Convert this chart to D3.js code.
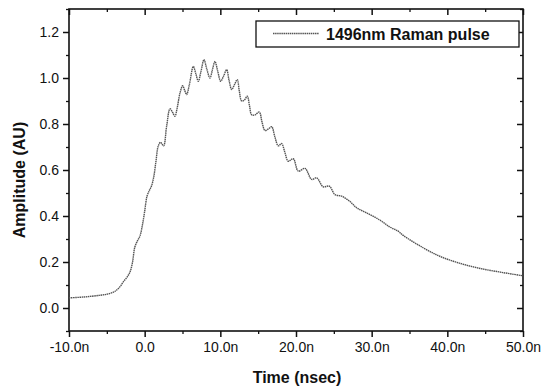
<!DOCTYPE html>
<html>
<head>
<meta charset="utf-8">
<script src="https://cdn.jsdelivr.net/npm/d3@7"></script>
<style>
  body { margin: 0; background: #fff; }
  svg { display: block; font-family: "Liberation Sans", Arial, sans-serif; }
</style>
</head>
<body>
<svg width="542" height="387"></svg>
<script>
// pulse trace (time in ns, amplitude in AU)
const timeNs = [-10, -8, -6, -5, -4.2, -3.7, -3.2, -2.8, -2.3, -1.9, -1.6, -1.3, -0.9, -0.6, -0.3,
  0.0, 0.3, 0.6, 0.9, 1.2, 1.5, 1.8, 2.1, 2.5, 2.9, 3.35, 3.7, 4.0, 4.3, 4.67, 5.02, 5.3, 5.55,
  5.9, 6.43, 6.75, 7.09, 7.45, 7.84, 8.2, 8.63, 8.95, 9.29, 9.65, 10.05, 10.45, 10.84, 11.15,
  11.5, 11.85, 12.24, 12.5, 12.82, 13.2, 13.56, 13.85, 14.14, 14.6, 15.15, 15.5, 15.9, 16.4,
  16.79, 17.2, 17.66, 18.1, 18.5, 18.98, 19.64, 20.3, 21.19, 22.07, 22.73, 23.6, 24.4, 25.15,
  26.04, 27.1, 28.0, 29.3, 31.1, 32.4, 33.5, 34.2, 36.8, 39.0, 41.2, 43.9, 47.0, 50.0];
const amplitude = [0.044, 0.048, 0.055, 0.06, 0.068, 0.078, 0.095, 0.115, 0.135, 0.16, 0.2, 0.265,
  0.295, 0.315, 0.36, 0.42, 0.485, 0.51, 0.53, 0.57, 0.64, 0.705, 0.72, 0.705, 0.79, 0.866, 0.85,
  0.834, 0.87, 0.935, 0.966, 0.945, 0.928, 0.97, 1.05, 1.02, 0.986, 1.03, 1.08, 1.04, 1.0, 1.035,
  1.072, 1.03, 0.986, 1.01, 1.036, 0.99, 0.95, 0.97, 0.993, 0.945, 0.9, 0.905, 0.921, 0.88, 0.84,
  0.84, 0.852, 0.81, 0.772, 0.78, 0.788, 0.745, 0.705, 0.715, 0.68, 0.638, 0.649, 0.595, 0.607,
  0.559, 0.566, 0.527, 0.53, 0.493, 0.486, 0.464, 0.436, 0.414, 0.382, 0.352, 0.334, 0.315, 0.262,
  0.225, 0.199, 0.175, 0.156, 0.14];

const xTicks = [-10, 0, 10, 20, 30, 40, 50];
const xTickLabels = ['-10.0n', '0.0', '10.0n', '20.0n', '30.0n', '40.0n', '50.0n'];
const xMinor = [-5, 5, 15, 25, 35, 45];
const yTicks = [0.0, 0.2, 0.4, 0.6, 0.8, 1.0, 1.2];
const yMinor = [-0.1, 0.1, 0.3, 0.5, 0.7, 0.9, 1.1, 1.3];
const seriesName = '1496nm Raman pulse';

const svg = d3.select('svg');
const pLeft = 69, pRight = 523, pTop = 9, pBottom = 331;

const x = d3.scaleLinear().domain([-10, 50]).range([pLeft, pRight]);
const y = d3.scaleLinear().domain([-0.1, 1.3]).range([pBottom, pTop]);

// frame
svg.append('rect')
  .attr('x', pLeft).attr('y', pTop)
  .attr('width', pRight - pLeft).attr('height', pBottom - pTop)
  .attr('fill', 'none').attr('stroke', '#111').attr('stroke-width', 1.6);

// bottom axis (ticks outward)
const xAxis = svg.append('g').attr('transform', `translate(0,${pBottom})`)
  .call(d3.axisBottom(x).tickValues(xTicks).tickSize(6).tickPadding(5)
    .tickFormat((d, i) => xTickLabels[i]));
xAxis.select('.domain').remove();
xAxis.selectAll('line').attr('stroke', '#111').attr('stroke-width', 1.5);
xAxis.selectAll('text').attr('font-size', 14).attr('fill', '#111')
  .attr('font-family', '"Liberation Sans", Arial, sans-serif');
svg.append('g').attr('transform', `translate(0,${pBottom})`)
  .call(d3.axisBottom(x).tickValues(xMinor).tickSize(3).tickFormat(''))
  .call(g => g.select('.domain').remove())
  .selectAll('line').attr('stroke', '#111').attr('stroke-width', 1.3);

// top axis (ticks inward)
svg.append('g').attr('transform', `translate(0,${pTop})`)
  .call(d3.axisBottom(x).tickValues(xTicks).tickSize(6).tickFormat(''))
  .call(g => g.select('.domain').remove())
  .selectAll('line').attr('stroke', '#111').attr('stroke-width', 1.5);
svg.append('g').attr('transform', `translate(0,${pTop})`)
  .call(d3.axisBottom(x).tickValues(xMinor).tickSize(3).tickFormat(''))
  .call(g => g.select('.domain').remove())
  .selectAll('line').attr('stroke', '#111').attr('stroke-width', 1.3);

// left axis (ticks outward)
const yAxis = svg.append('g').attr('transform', `translate(${pLeft},0)`)
  .call(d3.axisLeft(y).tickValues(yTicks).tickSize(6).tickPadding(4).tickFormat(d3.format('.1f')));
yAxis.select('.domain').remove();
yAxis.selectAll('line').attr('stroke', '#111').attr('stroke-width', 1.5);
yAxis.selectAll('text').attr('font-size', 14).attr('fill', '#111')
  .attr('font-family', '"Liberation Sans", Arial, sans-serif');
svg.append('g').attr('transform', `translate(${pLeft},0)`)
  .call(d3.axisLeft(y).tickValues(yMinor).tickSize(3).tickFormat(''))
  .call(g => g.select('.domain').remove())
  .selectAll('line').attr('stroke', '#111').attr('stroke-width', 1.3);

// right axis (ticks inward)
svg.append('g').attr('transform', `translate(${pRight},0)`)
  .call(d3.axisLeft(y).tickValues(yTicks).tickSize(6).tickFormat(''))
  .call(g => g.select('.domain').remove())
  .selectAll('line').attr('stroke', '#111').attr('stroke-width', 1.5);
svg.append('g').attr('transform', `translate(${pRight},0)`)
  .call(d3.axisLeft(y).tickValues(yMinor).tickSize(3).tickFormat(''))
  .call(g => g.select('.domain').remove())
  .selectAll('line').attr('stroke', '#111').attr('stroke-width', 1.3);

// trace
const pts = timeNs.map((t, i) => [t, amplitude[i]]);
const line = d3.line()
  .x(d => x(d[0]))
  .y(d => y(d[1]))
  .curve(d3.curveCatmullRom.alpha(0.5));
svg.append('path')
  .attr('d', line(pts))
  .attr('fill', 'none')
  .attr('stroke', '#555')
  .attr('stroke-width', 1.4)
  .attr('stroke-dasharray', '1.5,0.6');

// legend
svg.append('rect')
  .attr('x', 256).attr('y', 21).attr('width', 263).attr('height', 26)
  .attr('fill', '#fff').attr('stroke', '#111').attr('stroke-width', 1.3);
svg.append('line')
  .attr('x1', 273).attr('x2', 319).attr('y1', 33.5).attr('y2', 33.5)
  .attr('stroke', '#555').attr('stroke-width', 1.4).attr('stroke-dasharray', '1.5,0.6');
svg.append('text')
  .attr('x', 326).attr('y', 40)
  .attr('font-size', 16).attr('font-weight', 'bold').attr('fill', '#111')
  .text(seriesName);

// axis titles
svg.append('text')
  .attr('x', (pLeft + pRight) / 2 + 1).attr('y', 383)
  .attr('text-anchor', 'middle')
  .attr('font-size', 16).attr('font-weight', 'bold').attr('fill', '#111')
  .text('Time (nsec)');
svg.append('text')
  .attr('transform', 'translate(25,180) rotate(-90)')
  .attr('text-anchor', 'middle')
  .attr('font-size', 16).attr('font-weight', 'bold').attr('fill', '#111')
  .text('Amplitude (AU)');
</script>
</body>
</html>
